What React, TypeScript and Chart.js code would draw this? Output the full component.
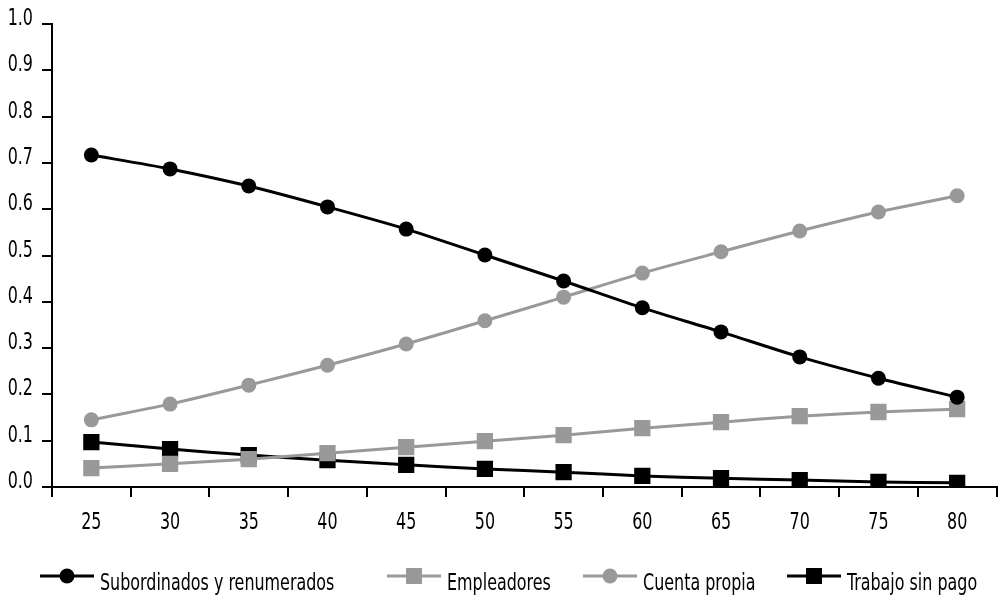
import React, { useEffect, useRef } from "react";
import { Chart, registerables } from "chart.js";

Chart.register(...registerables);

const ages = ["25", "30", "35", "40", "45", "50", "55", "60", "65", "70", "75", "80"];
const subordinados = [0.717, 0.687, 0.65, 0.605, 0.557, 0.501, 0.445, 0.387, 0.335, 0.281, 0.235, 0.194];
const empleadores = [0.041, 0.05, 0.06, 0.073, 0.086, 0.099, 0.112, 0.127, 0.14, 0.153, 0.162, 0.168];
const cuentaPropia = [0.145, 0.179, 0.22, 0.263, 0.309, 0.359, 0.41, 0.462, 0.508, 0.553, 0.594, 0.629];
const trabajoSinPago = [0.097, 0.082, 0.069, 0.058, 0.048, 0.039, 0.032, 0.024, 0.019, 0.015, 0.011, 0.009];
const yTicks = [0, 0.1, 0.2, 0.3, 0.4, 0.5, 0.6, 0.7, 0.8, 0.9, 1.0];
const seriesNames = ["Subordinados y renumerados", "Empleadores", "Cuenta propia", "Trabajo sin pago"];

const FONT = "'DejaVu Sans Condensed', 'Liberation Sans Narrow', 'DejaVu Sans', sans-serif";
const FONT_SIZE = 23;
const SQUEEZE = 0.77;
const BLACK = "#000000";
const GRAY = "#999999";

function drawText(ctx: CanvasRenderingContext2D, text: string, x: number, y: number, align: CanvasTextAlign) {
  ctx.save();
  ctx.font = `${FONT_SIZE}px ${FONT}`;
  ctx.fillStyle = "#000";
  ctx.textBaseline = "alphabetic";
  ctx.textAlign = align;
  ctx.translate(x, y);
  ctx.scale(SQUEEZE, 1);
  ctx.fillText(text, 0, 0);
  ctx.restore();
}

const textPlugin = {
  id: "condensedText",
  afterDraw(chart: any) {
    const ctx: CanvasRenderingContext2D = chart.ctx;
    const xs = chart.scales.x;
    const ys = chart.scales.y;
    yTicks.forEach((v) => {
      const py = ys.getPixelForValue(v);
      drawText(ctx, v.toFixed(1), ys.right - 19, py + 1, "right");
    });
    ages.forEach((lab, i) => {
      const px = xs.getPixelForValue(i);
      drawText(ctx, lab, px, xs.top + 42, "center");
    });
    const starts = [40, 387, 583, 787];
    const iconY = 576;
    const textY = 590;
    chart.data.datasets.forEach((ds: any, i: number) => {
      const x0 = starts[i];
      ctx.save();
      ctx.strokeStyle = ds.borderColor;
      ctx.fillStyle = ds.borderColor;
      ctx.lineWidth = 3;
      ctx.beginPath();
      ctx.moveTo(x0, iconY);
      ctx.lineTo(x0 + 54, iconY);
      ctx.stroke();
      const cx = x0 + 27;
      if (ds.pointStyle === "circle") {
        ctx.beginPath();
        ctx.arc(cx, iconY, 7.5, 0, Math.PI * 2);
        ctx.fill();
      } else {
        ctx.fillRect(cx - 8, iconY - 8, 16, 16);
      }
      ctx.restore();
      drawText(ctx, ds.label, x0 + 60, textY, "left");
    });
  },
};

export default function App() {
  const ref = useRef<HTMLCanvasElement | null>(null);

  useEffect(() => {
    document.body.style.margin = "0";
    const mk = (label: string, data: number[], color: string, shape: string, r: number) => ({
      label,
      data,
      borderColor: color,
      backgroundColor: color,
      borderWidth: 3,
      pointStyle: shape,
      pointRadius: r,
      pointHoverRadius: r,
      pointBorderWidth: 0,
      tension: 0.25,
    });
    const datasets: any[] = [
      mk(seriesNames[0], subordinados, BLACK, "circle", 7.5),
      mk(seriesNames[1], empleadores, GRAY, "rect", 11.5),
      mk(seriesNames[2], cuentaPropia, GRAY, "circle", 7.5),
      mk(seriesNames[3], trabajoSinPago, BLACK, "rect", 11.5),
    ];
    const chart = new Chart(ref.current!, {
      type: "line",
      data: { labels: ages, datasets },
      plugins: [textPlugin],
      options: {
        animation: false,
        responsive: false,
        maintainAspectRatio: false,
        layout: { padding: { top: 24, right: 5, left: 0, bottom: 78 } },
        plugins: {
          tooltip: { enabled: false },
          legend: { display: false },
        },
        scales: {
          x: {
            type: "category",
            offset: true,
            border: { display: true, color: BLACK, width: 2 },
            grid: {
              display: true,
              offset: true,
              drawOnChartArea: false,
              drawTicks: true,
              tickLength: 10,
              color: BLACK,
              lineWidth: 2,
            },
            ticks: { display: false },
            afterFit: (s: any) => {
              s.height = 40;
            },
          },
          y: {
            type: "linear",
            min: 0,
            max: 1,
            afterBuildTicks: (s: any) => {
              s.ticks = yTicks.map((v) => ({ value: v }));
            },
            border: { display: true, color: BLACK, width: 2 },
            grid: {
              display: true,
              drawOnChartArea: false,
              drawTicks: true,
              tickLength: 10,
              color: BLACK,
              lineWidth: 2,
            },
            ticks: { display: false },
            afterFit: (s: any) => {
              s.width = 52;
            },
          },
        },
      } as any,
    });
    return () => chart.destroy();
  }, []);

  return (
    <div style={{ position: "fixed", left: 0, top: 0, width: 1008, height: 605, background: "#fff" }}>
      <canvas ref={ref} width={1008} height={605} style={{ width: 1008, height: 605 }} />
    </div>
  );
}
